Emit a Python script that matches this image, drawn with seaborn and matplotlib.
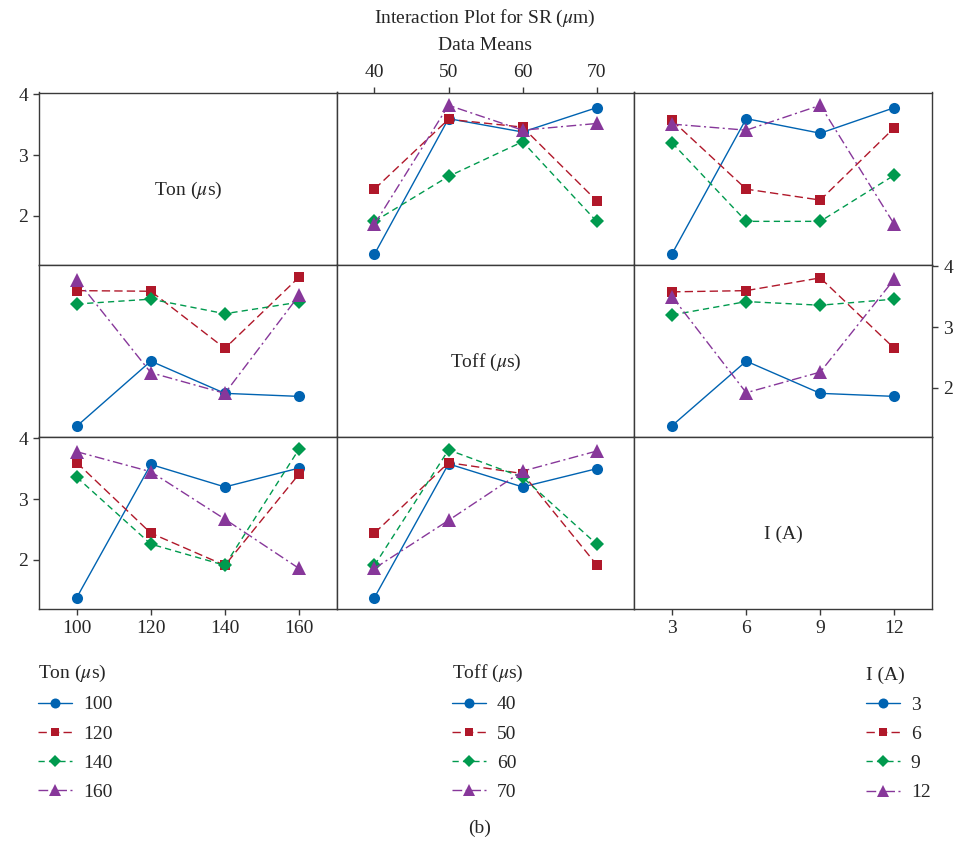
import numpy as np
import pandas as pd
import seaborn as sns
import matplotlib
matplotlib.use('Agg')
import matplotlib.pyplot as plt
from matplotlib.lines import Line2D

# factor levels
ton_levels = [100, 120, 140, 160]
toff_levels = [40, 50, 60, 70]
i_levels = [3, 6, 9, 12]

# mean SR (um), rows = Ton, cols = Toff
sr_ton_toff = [[1.37, 3.60, 3.38, 3.78],
               [2.44, 3.59, 3.46, 2.25],
               [1.91, 2.65, 3.22, 1.91],
               [1.86, 3.82, 3.41, 3.52]]
# rows = Ton, cols = I
sr_ton_i = [[1.38, 3.60, 3.36, 3.78],
            [3.57, 2.44, 2.26, 3.45],
            [3.20, 1.91, 1.91, 2.67],
            [3.51, 3.41, 3.82, 1.86]]
# rows = Toff, cols = I
sr_toff_i = [[1.38, 2.44, 1.91, 1.86],
             [3.58, 3.60, 3.81, 2.65],
             [3.20, 3.42, 3.36, 3.46],
             [3.50, 1.92, 2.26, 3.79]]

factor_names = ['Ton', 'Toff', 'I']
factor_labels = ['Ton ($\\mu$s)', 'Toff ($\\mu$s)', 'I (A)']
levels = [ton_levels, toff_levels, i_levels]

colors = ['#0063B1', '#B0182A', '#009A4E', '#87379A']
markers = ['o', 's', 'D', '^']
msizes = [8, 7, 7, 9.5]
dash_list = ['', (6, 3), (4.5, 3), (7, 2.5, 1.5, 2.5)]


def long_table(tab, a, b):
    rows = []
    for p, la in enumerate(levels[a]):
        for q, lb in enumerate(levels[b]):
            rows.append({factor_names[a]: la, factor_names[b]: lb, 'SR': tab[p][q]})
    return pd.DataFrame(rows)


tables = {(0, 1): long_table(sr_ton_toff, 0, 1),
          (0, 2): long_table(sr_ton_i, 0, 2),
          (1, 2): long_table(sr_toff_i, 1, 2)}

sns.set_style('ticks')
plt.rcParams['font.family'] = ['Liberation Serif', 'DejaVu Serif']
plt.rcParams['mathtext.fontset'] = 'stix'
plt.rcParams['font.size'] = 14

fig = plt.figure(figsize=(9.63, 8.43), dpi=100)
left0 = 39 / 963
w = 297.7 / 963
top0 = 1 - 92.5 / 843
h = 172 / 843
ylim = (1.2, 4.03)
spine_col = '#3a3a3a'

axes = [[fig.add_axes([left0 + c * w, top0 - (r + 1) * h, w, h]) for c in range(3)] for r in range(3)]

for r in range(3):
    for c in range(3):
        ax = axes[r][c]
        lv = levels[c]
        step = lv[1] - lv[0]
        if r != c:
            df = tables[(min(r, c), max(r, c))].copy()
            df['trace'] = df[factor_names[r]].astype(str)
            order = [str(v) for v in levels[r]]
            for k, lab in enumerate(order):
                sub = df[df['trace'] == lab]
                sns.lineplot(data=sub, x=factor_names[c], y='SR', color=colors[k],
                             marker=markers[k], markersize=msizes[k], markeredgewidth=0,
                             dashes=False, linewidth=1.0, errorbar=None, legend=False,
                             ax=ax, sort=True)
                line = ax.get_lines()[-1]
                if dash_list[k] == '':
                    line.set_linestyle('-')
                else:
                    line.set_linestyle((0, dash_list[k]))
        else:
            ax.text(0.5, 0.43, factor_labels[r], transform=ax.transAxes,
                    ha='center', va='center', fontsize=14)
        ax.set_xlim(lv[0] - 0.51 * step, lv[-1] + 0.51 * step)
        ax.set_ylim(*ylim)
        ax.set_xticks([])
        ax.set_yticks([])
        ax.set_xlabel('')
        ax.set_ylabel('')
        for s in ax.spines.values():
            s.set_visible(True)
            s.set_color(spine_col)
            s.set_linewidth(1.0)
        ax.tick_params(length=4, width=1.0, color=spine_col, labelsize=14, pad=4)

# alternating tick labels
axes[0][0].set_yticks([2, 3, 4])
axes[2][0].set_yticks([2, 3, 4])
axes[2][0].set_xticks(ton_levels)
axes[1][2].yaxis.tick_right()
axes[1][2].set_yticks([2, 3, 4])
axes[0][1].xaxis.tick_top()
axes[0][1].set_xticks(toff_levels)
axes[2][2].set_xticks(i_levels)

fig.text(485 / 963, 1 - 18 / 843, 'Interaction Plot for SR ($\\mu$m)', ha='center', va='center', fontsize=14)
fig.text(485 / 963, 1 - 45 / 843, 'Data Means', ha='center', va='center', fontsize=14)

leg_x = [38 / 963, 452 / 963, 866 / 963]
leg_top = [663, 663, 667]
for r in range(3):
    handles = []
    for k in range(4):
        ls = '-' if dash_list[k] == '' else (0, dash_list[k])
        handles.append(Line2D([], [], color=colors[k], marker=markers[k], markersize=msizes[k] * 0.9,
                              markeredgewidth=0, linestyle=ls, linewidth=1.0))
    fig.legend(handles, [str(v) for v in levels[r]], title=factor_labels[r],
               loc='upper left', bbox_to_anchor=(leg_x[r], 1 - leg_top[r] / 843),
               frameon=False, fontsize=14, title_fontsize=14, alignment='left',
               handlelength=1.75, handletextpad=0.55, labelspacing=0.6,
               borderpad=0, borderaxespad=0)

fig.text(480 / 963, 1 - 828 / 843, '(b)', ha='center', va='center', fontsize=14)

fig.savefig('out.png', dpi=100)
